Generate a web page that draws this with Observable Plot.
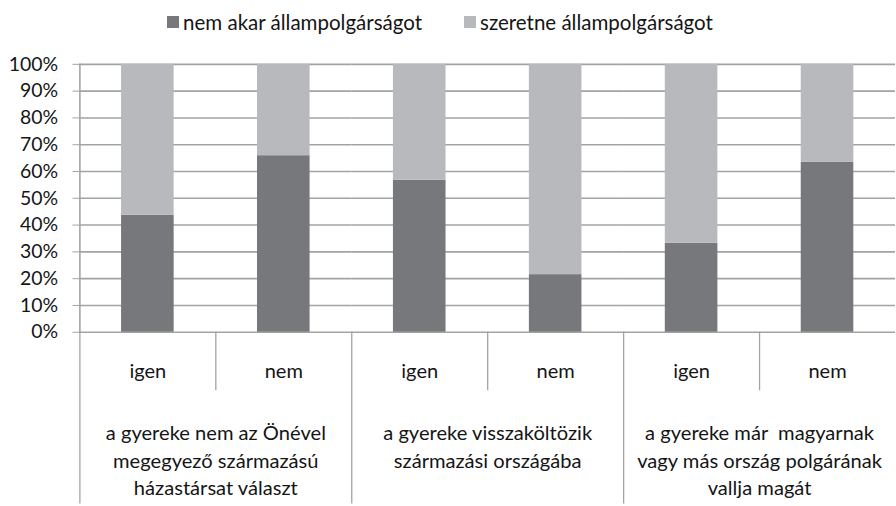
<!DOCTYPE html>
<html><head><meta charset="utf-8">
<script src="https://cdn.jsdelivr.net/npm/d3@7"></script>
<script src="https://cdn.jsdelivr.net/npm/@observablehq/plot@0.6"></script>
<style>
html,body{margin:0;padding:0;background:#fff;overflow:hidden;width:896px;height:506px;}
body{font-family:Lato,sans-serif;color:#151515;}
#legend{height:44px;display:flex;align-items:center;justify-content:center;padding-left:26px;box-sizing:border-box;}
#legend .lg-swatches{font-family:Lato,sans-serif;font-size:20.5px;color:#151515;margin:0;min-height:0;}
#legend .lg-swatches .lg-swatch{margin-right:42px;}
#legend .lg-swatches .lg-swatch svg{margin-right:4px;}
#chart svg{display:block;overflow:visible;}
</style></head><body>
<div id="legend"></div><div id="chart"></div>
<script>
const groups = [
  "a gyereke nem az Önével\nmegegyező származású\nházastársat választ",
  "a gyereke visszaköltözik\nszármazási országába",
  "a gyereke már \u00a0magyarnak\nvagy más ország polgárának\nvallja magát"
];
const answers = ["igen", "nem"];
const series = ["nem akar állampolgárságot", "szeretne állampolgárságot"];
const seriesColors = ["#77787b", "#b8b9bc"];
const nemAkar = [43.7, 65.9, 56.7, 21.5, 33.2, 63.4];
const szeretne = [56.3, 34.1, 43.3, 78.5, 66.8, 36.6];
const yTicks = [0, 10, 20, 30, 40, 50, 60, 70, 80, 90, 100];

const rows = [];
groups.forEach((g, gi) => answers.forEach((a, ai) => {
  const i = gi * 2 + ai;
  rows.push({group: g, answer: a, series: series[0], value: nemAkar[i]});
  rows.push({group: g, answer: a, series: series[1], value: szeretne[i]});
}));

const W = 903, H = 462, mTop = 20, mBottom = 172, mLeft = 79;
const plotH = H - mTop - mBottom;
const lineColor = "#a3a3a3";

const legend = Plot.legend({
  color: {domain: series, range: seriesColors},
  swatchSize: 12,
  className: "lg"
});
document.getElementById("legend").appendChild(legend);

const chart = Plot.plot({
  width: W, height: H,
  marginTop: mTop, marginBottom: mBottom, marginLeft: mLeft, marginRight: 0,
  style: {fontFamily: "Lato, sans-serif", fontSize: "19.6px", color: "#151515", background: "transparent"},
  fx: {domain: groups, padding: 0, label: null, axis: null},
  x: {domain: answers, paddingInner: 0.61, paddingOuter: 0.305, label: null, axis: null},
  y: {domain: [0, 100], label: null, axis: null},
  color: {domain: series, range: seriesColors},
  marks: [
    Plot.gridY(yTicks, {stroke: lineColor, strokeOpacity: 1, strokeWidth: 1.6}),
    Plot.barY(rows, {fx: "group", x: "answer", y: "value", fill: "series"}),
    Plot.axisY(yTicks, {tickSize: 7, tickPadding: 15, tickFormat: d => d + "%", stroke: lineColor, strokeOpacity: 1, label: null}),
    Plot.frame({anchor: "left", insetTop: plotH, insetBottom: -mBottom, stroke: lineColor, strokeWidth: 1.3}),
    Plot.frame({anchor: "left", fx: () => groups[0], stroke: lineColor, strokeWidth: 1.6}),
    Plot.ruleX(groups, {fx: d => d, x: null, insetTop: plotH, insetBottom: -59, stroke: lineColor, strokeWidth: 1.3}),
    Plot.axisX({tickSize: 0, tickPadding: 32, fontSize: 20.2, label: null}),
    Plot.axisFx({anchor: "bottom", tickSize: 0, tickPadding: 89, fontSize: 20.3, lineHeight: 1.37, label: null})
  ]
});
document.getElementById("chart").appendChild(chart);
</script>
</body></html>
